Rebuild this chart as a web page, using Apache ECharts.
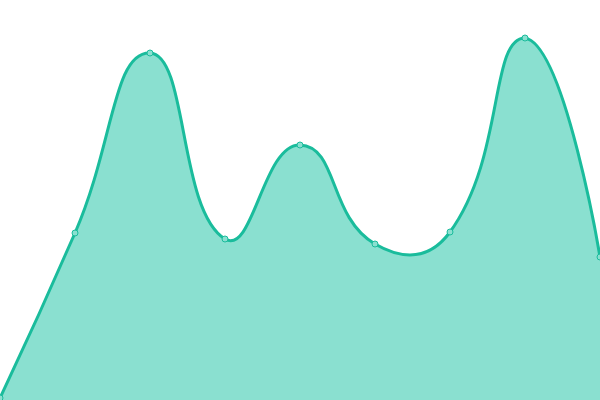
<!DOCTYPE html>
<html>
<head>
<meta charset="utf-8">
<script src="https://cdn.jsdelivr.net/npm/echarts@6/dist/echarts.min.js"></script>
<style>html,body{margin:0;padding:0;background:#fff}#c{width:600px;height:400px}</style>
</head>
<body>
<div id="c"></div>
<script>
var categories = ['1','2','3','4','5','6','7','8','9'];
var values = [2, 167, 347, 161, 255, 156, 168, 362, 143];

var SMOOTH = 0.5;
function smoothPath(pts) {
  var minX = Infinity, minY = Infinity, maxX = -Infinity, maxY = -Infinity;
  pts.forEach(function (p) {
    minX = Math.min(minX, p[0]); maxX = Math.max(maxX, p[0]);
    minY = Math.min(minY, p[1]); maxY = Math.max(maxY, p[1]);
  });
  function clamp(c) {
    return [Math.min(Math.max(c[0], minX), maxX), Math.min(Math.max(c[1], minY), maxY)];
  }
  var d = 'M' + pts[0][0] + ',' + pts[0][1];
  var cp0 = pts[0].slice();
  for (var i = 1; i < pts.length; i++) {
    var p = pts[i], prev = pts[i - 1], next = pts[i + 1];
    var ncp, v = null, r = 0.5;
    if (!next) {
      ncp = p.slice();
    } else {
      v = [next[0] - prev[0], next[1] - prev[1]];
      var lp = Math.hypot(p[0] - prev[0], p[1] - prev[1]);
      var ln = Math.hypot(p[0] - next[0], p[1] - next[1]);
      r = ln / (lp + ln);
      ncp = clamp([p[0] - v[0] * SMOOTH * (1 - r), p[1] - v[1] * SMOOTH * (1 - r)]);
    }
    d += ' C' + cp0[0] + ',' + cp0[1] + ' ' + ncp[0] + ',' + ncp[1] + ' ' + p[0] + ',' + p[1];
    if (v) cp0 = clamp([p[0] + v[0] * SMOOTH * r, p[1] + v[1] * SMOOTH * r]);
  }
  return d;
}

var chart = echarts.init(document.getElementById('c'));
chart.setOption({
  animation: false,
  grid: {left: 0, right: 0, top: 0, bottom: 0},
  xAxis: {type: 'category', data: categories, boundaryGap: false, show: false},
  yAxis: {type: 'value', min: 0, max: 400, show: false},
  series: [{
    type: 'custom',
    z: 1,
    silent: true,
    data: values.map(function (v, i) { return [i, v]; }),
    encode: {x: 0, y: 1},
    renderItem: function (params, api) {
      if (params.dataIndex !== 0) return null;
      var pts = values.map(function (v, i) { return api.coord([i, v]); });
      var base = api.coord([0, 0])[1];
      var line = smoothPath(pts);
      var last = pts[pts.length - 1], first = pts[0];
      var area = line + ' L' + last[0] + ',' + base + ' L' + first[0] + ',' + base + ' Z';
      return {
        type: 'group',
        children: [
          {type: 'path', shape: {pathData: area}, style: {fill: '#8ae0d0', stroke: null}},
          {type: 'path', shape: {pathData: line}, style: {fill: null, stroke: '#1abc9c', lineWidth: 3, lineJoin: 'round'}}
        ]
      };
    }
  }, {
    type: 'line',
    z: 3,
    data: values,
    symbol: 'circle',
    symbolSize: 6,
    lineStyle: {opacity: 0},
    itemStyle: {color: '#8ae0d0', borderColor: '#1abc9c', borderWidth: 1}
  }]
});
</script>
</body>
</html>
